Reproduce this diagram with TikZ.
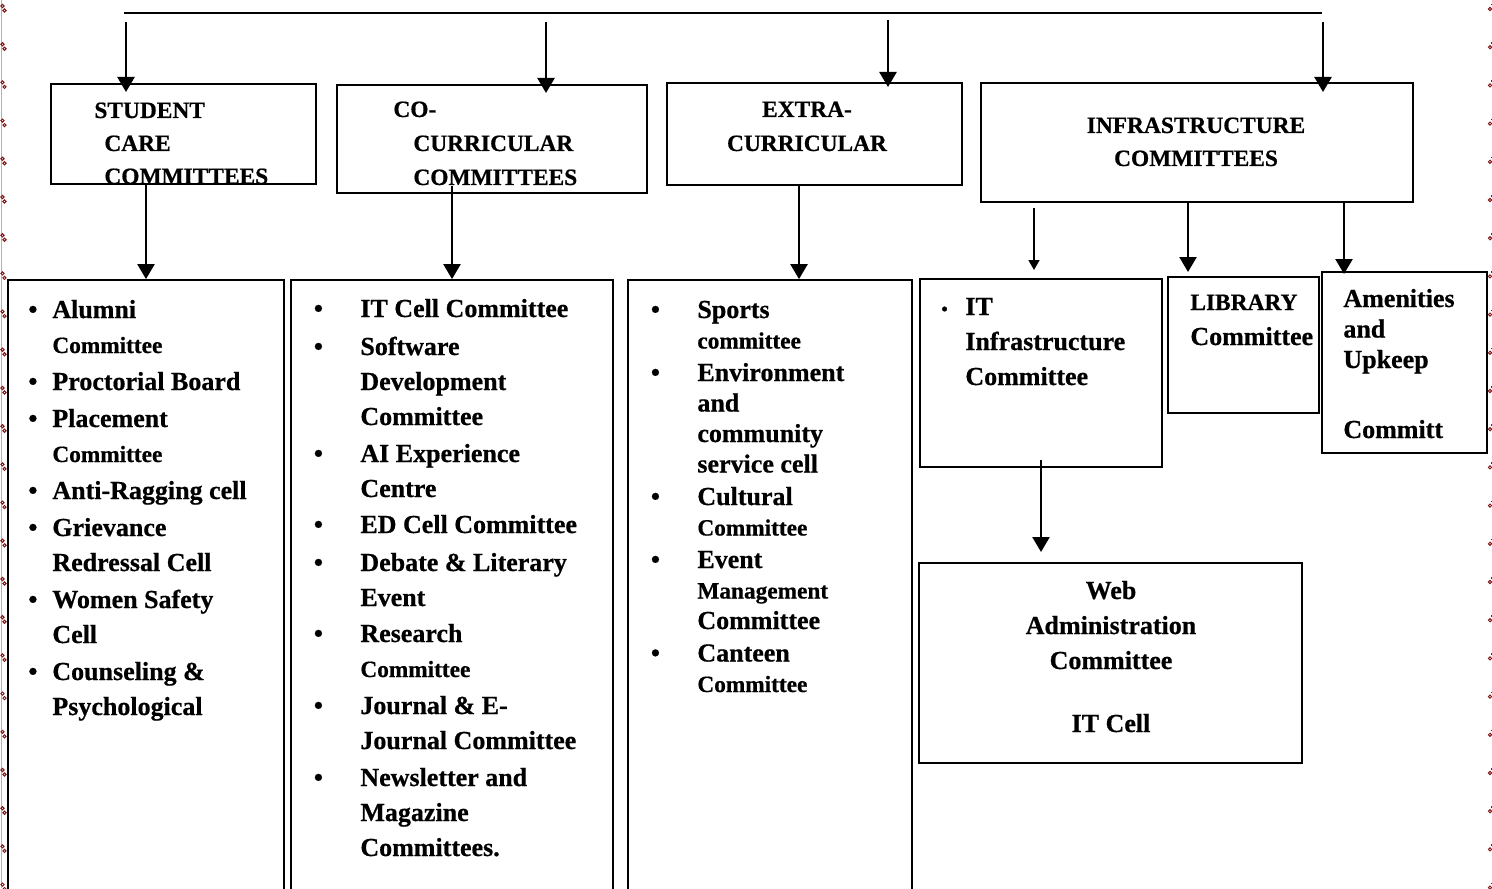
\documentclass[tikz,border=0pt]{standalone}
\usepackage{fontspec}
\setmainfont{Liberation Serif}[BoldFeatures={FakeBold=0.6}]
\usetikzlibrary{arrows.meta,fit}

\definecolor{bordred}{RGB}{130,25,25}
\newcommand{\lstfont}{\fontsize{13}{17.5}\selectfont\bfseries}
\newcommand{\tightfont}{\fontsize{13}{15.25}\selectfont\bfseries}
\newcommand{\hdfont}{\fontsize{11.7}{16.5}\selectfont\bfseries}
\newcommand{\cmt}{\fontsize{11.65}{14}\selectfont}

\begin{document}
\begin{tikzpicture}[x=0.5pt, y=-0.5pt,
    box/.style={draw, line width=1pt, inner sep=0pt},
    lstbox/.style={draw, line width=0.9pt, inner sep=0pt},
    txt/.style={inner sep=0pt, anchor=base west},
    arr/.style={line width=1.2pt, -{Triangle[width=8.5pt,length=7.5pt]}},
    thinarr/.style={line width=0.8pt, -{Triangle[width=5.5pt,length=5pt]}},
    dots/.style={draw=bordred, line width=0.5pt}]

    \path[use as bounding box, fill=white] (0,0) rectangle (1492,888);

    % Page border
    \draw[gray!60, line width=0.4pt] (1,0) -- (1,888);
    \foreach \k in {0,...,23}{
        \draw[dots] (2.5,{8+38.2*\k-2}) circle[radius=0.8pt];
        \draw[dots] (4.5,{8+38.2*\k+2.5}) circle[radius=0.8pt];
        \draw[dots] (1490,{8+38.2*\k+1}) circle[radius=0.8pt];
        \draw[dots] (1491,{8+38.2*\k-4}) -- (1491,{8+38.2*\k-2.5});
    }

    % Top bar
    \coordinate (barL) at (124,13);
    \coordinate (barR) at (1322,13);
    \draw[line width=1.1pt] (barL) -- (barR);

    % Header boxes
    \node[box, fit={(51,84) (316,184)}] (stud) {};
    \node[box, fit={(337,85) (647,193)}] (co) {};
    \node[box, fit={(667,83) (962,185)}] (extra) {};
    \node[box, fit={(981,83) (1413,202)}] (infra) {};

    % -- header texts
    \node[txt, font=\hdfont] (studtxt) at (94,118)
        {\begin{tabular}[t]{@{}l@{}}STUDENT\\ \hspace{5pt}CARE\\ \hspace{5pt}COMMITTEES\end{tabular}};
    \node[txt, font=\hdfont] (cotxt) at (393,117)
        {\begin{tabular}[t]{@{}l@{}}CO-\\[0.5pt] \hspace{10pt}CURRICULAR\\[0.5pt] \hspace{10pt}COMMITTEES\end{tabular}};
    \node[txt, anchor=base, font=\hdfont] (extratxt) at (807,117)
        {\begin{tabular}[t]{@{}c@{}}EXTRA-\\[0.5pt] CURRICULAR\end{tabular}};
    \node[txt, anchor=base, font=\hdfont] (infratxt) at (1196,133)
        {\begin{tabular}[t]{@{}c@{}}INFRASTRUCTURE\\ COMMITTEES\end{tabular}};

    % List boxes
    \node[lstbox, fit={(8,280) (284,895)}] (lst1) {};
    \node[lstbox, fit={(291,280) (613,895)}] (lst2) {};
    \node[lstbox, fit={(628,280) (912,895)}] (lst3) {};
    \node[box, fit={(920,279) (1162,467)}] (it) {};
    \node[box, fit={(1168,277) (1319,413)}] (lib) {};
    \node[box, fit={(1322,272) (1487,453)}] (amen) {};
    \node[box, fit={(919,563) (1302,763)}] (web) {};

    % -- student care list
    \node[txt, font=\lstfont] (lst1txt) at (28,318)
        {\begin{tabular}[t]{@{}p{12pt}@{}l@{}}
        \textbullet & Alumni\\
         & \cmt Committee\\[1pt]
        \textbullet & Proctorial Board\\[1pt]
        \textbullet & Placement\\
         & \cmt Committee\\[1pt]
        \textbullet & Anti-Ragging cell\\[1pt]
        \textbullet & Grievance\\
         & Redressal Cell\\[1pt]
        \textbullet & Women Safety\\
         & Cell\\[1pt]
        \textbullet & Counseling \&\\
         & Psychological
        \end{tabular}};

    % -- co-curricular list
    \node[txt, font=\lstfont] (lst2txt) at (313.5,317)
        {\begin{tabular}[t]{@{}p{23.25pt}@{}l@{}}
        \textbullet & IT Cell Committee\\[1.5pt]
        \textbullet & Software\\
         & Development\\
         & Committee\\[1pt]
        \textbullet & AI Experience\\
         & Centre\\[0.5pt]
        \textbullet & ED Cell Committee\\[1.5pt]
        \textbullet & Debate \& Literary\\
         & Event\\[0.5pt]
        \textbullet & Research\\
         & \cmt Committee\\[1pt]
        \textbullet & Journal \& E-\\
         & Journal Committee\\[1pt]
        \textbullet & Newsletter and\\
         & Magazine\\
         & Committees.
        \end{tabular}};

    % -- extra-curricular list
    \node[txt, font=\tightfont] (lst3txt) at (650.5,318)
        {\begin{tabular}[t]{@{}p{23.25pt}@{}l@{}}
        \textbullet & Sports\\
         & \cmt committee\\[1pt]
        \textbullet & Environment\\
         & and\\
         & community\\
         & service cell\\[1pt]
        \textbullet & Cultural\\
         & \cmt Committee\\[1pt]
        \textbullet & Event\\
         & \cmt Management\\
         & Committee\\[1pt]
        \textbullet & Canteen\\
         & \cmt Committee
        \end{tabular}};

    % -- infrastructure boxes
    \node[txt, font=\lstfont] (ittxt) at (941,315)
        {\begin{tabular}[t]{@{}p{12pt}@{}l@{}}
        {\fontsize{9}{9}\selectfont\textbullet} & IT\\
         & Infrastructure\\
         & Committee
        \end{tabular}};
    \node[txt, font=\lstfont] (libtxt) at (1190,310)
        {\begin{tabular}[t]{@{}l@{}}{\fontsize{11.7}{14}\selectfont LIBRARY}\\ Committee\end{tabular}};
    \node[txt, font=\tightfont] (amentxt) at (1343,307)
        {\begin{tabular}[t]{@{}l@{}}Amenities\\ and\\ Upkeep\\[19.75pt] Committ\end{tabular}};
    \node[txt, anchor=base, font=\lstfont] (webtxt) at (1111,599)
        {\begin{tabular}[t]{@{}c@{}}Web\\ Administration\\ Committee\\[14pt] IT Cell\end{tabular}};

    % Arrows from top bar
    \coordinate (s1) at (126,22);
    \coordinate (s2) at (546,22);
    \coordinate (s3) at (888,20);
    \coordinate (s4) at (1323,22);
    \draw[arr, shorten >=-4.5pt] (s1) -- (s1 |- stud.north);
    \draw[arr, shorten >=-4.5pt] (s2) -- (s2 |- co.north);
    \draw[arr, shorten >=-2.5pt] (s3) -- (s3 |- extra.north);
    \draw[arr, shorten >=-5pt] (s4) -- (s4 |- infra.north);

    % Arrows down to lists
    \coordinate (x3) at (799,0);
    \coordinate (x4) at (1034,0);
    \coordinate (x5) at (1188,0);
    \coordinate (x6) at (1344,0);
    \draw[arr] (stud.south -| lst1.north) -- (lst1.north);
    \draw[arr, shorten <=-4pt] (co.south -| lst2.north) -- (lst2.north);
    \draw[arr] (x3 |- extra.south) -- (x3 |- lst3.north);
    \draw[thinarr, shorten <=2.5pt, shorten >=4pt] (x4 |- infra.south) -- (x4 |- it.north);
    \draw[arr, shorten >=2pt] (x5 |- infra.south) -- (x5 |- lib.north);
    \draw[arr, shorten >=-1.5pt] (x6 |- infra.south) -- (x6 |- amen.north);
    \draw[arr, shorten <=-4pt, shorten >=5pt] (it.south) -- (it.south |- web.north);
\end{tikzpicture}
\end{document}
